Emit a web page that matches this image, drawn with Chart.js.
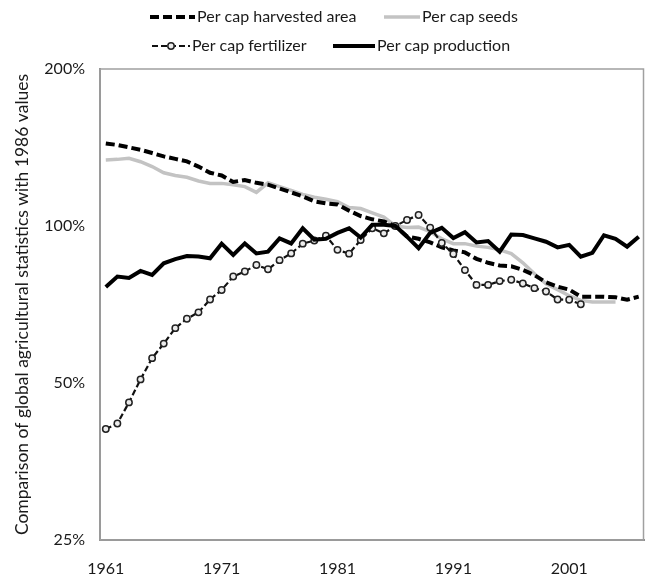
<!DOCTYPE html>
<html>
<head>
<meta charset="utf-8">
<script src="https://cdn.jsdelivr.net/npm/chart.js@4.4.1/dist/chart.umd.min.js"></script>
<style>
  html, body { margin: 0; padding: 0; background: #fff; }
  #wrap { width: 650px; height: 577px; }
</style>
</head>
<body>
<div id="wrap"><canvas id="chart" width="650" height="577"></canvas></div>
<script>
// years on the category axis
const years = [1961,1962,1963,1964,1965,1966,1967,1968,1969,1970,
               1971,1972,1973,1974,1975,1976,1977,1978,1979,1980,
               1981,1982,1983,1984,1985,1986,1987,1988,1989,1990,
               1991,1992,1993,1994,1995,1996,1997,1998,1999,2000,
               2001,2002,2003,2004,2005,2006,2007];

// values in % of 1986
const harvestedArea = [144,143,141.5,140,138,136,134.5,133,130,126.5,
                       125,121.5,122.5,121,120,118,116,114,111.5,110.5,
                       110,107,104.5,103,102,100,95.5,94.5,93,91,
                       89.8,89,86.5,85,84,83.7,82.4,80.5,78,76.5,
                       75.5,73.2,73.2,73.2,73,72.2,73.2];
const seeds = [133.8,134.2,134.8,132.8,130,126.5,125,124,122,120.7,
               120.7,120,119,116,121,119,117,115,113.5,112.5,
               111.3,108.5,108,106,104,100,99.3,99.5,97.5,94.5,
               92.5,92.5,91.5,91,90,88.5,85,81,77.5,75.5,
               73.5,72,71.5,71.5,71.5,null,null];
const fertilizer = [40.8,41.8,45.9,50.8,55.8,59.5,63.7,66.4,68.3,72.3,
                    75.4,80,81.8,84.2,82.6,86,88.6,92.5,93.8,95.8,
                    90,88.5,94,99,96.8,100,102.7,105,99.3,92.8,
                    88.4,82.3,77.1,77.1,78.4,78.9,77.6,76,74.9,72.3,
                    72.2,70.8,null,null,null,null,null];
const production = [76.4,80,79.5,82,80.6,84.8,86.4,87.6,87.4,86.7,
                    92.5,88,92.6,88.6,89.3,94.7,92.6,99,94.1,94.5,
                    97,99,95,100.5,100.5,100,95.4,90.7,97,99.2,
                    94.8,97.3,93,93.6,89.3,96.3,96.1,94.7,93.3,91,
                    92,87.3,88.8,96,94.5,91.3,95.4];

const seriesNames = ['Per cap harvested area', 'Per cap seeds', 'Per cap fertilizer', 'Per cap production'];
const yTicks = [25, 50, 100, 200];
const xLabelYears = [1961, 1971, 1981, 1991, 2001];

const FONT = 'Lato, "Open Sans", sans-serif';
const TEXT = '#1a1a1a';

// legend drawn by hand, two rows like the original
const legendSpots = [
  { x: 150, y: 17, w: 45 },
  { x: 384, y: 17, w: 36 },
  { x: 152, y: 46, w: 38 },
  { x: 333, y: 46, w: 42 }
];

const topLegend = {
  id: 'topLegend',
  afterDraw(chart) {
    const ctx = chart.ctx;
    ctx.save();
    chart.data.datasets.forEach((ds, i) => {
      const s = legendSpots[i];
      ctx.beginPath();
      ctx.setLineDash(ds.borderDash || []);
      ctx.lineWidth = ds.borderWidth;
      ctx.strokeStyle = ds.borderColor;
      ctx.moveTo(s.x, s.y);
      ctx.lineTo(s.x + s.w, s.y);
      ctx.stroke();
      ctx.setLineDash([]);
      if (ds.pointRadius > 0) {
        ctx.beginPath();
        ctx.arc(s.x + s.w / 2, s.y, ds.pointRadius, 0, Math.PI * 2);
        ctx.fillStyle = ds.pointBackgroundColor;
        ctx.fill();
        ctx.lineWidth = ds.pointBorderWidth;
        ctx.strokeStyle = ds.pointBorderColor;
        ctx.stroke();
      }
      ctx.fillStyle = TEXT;
      ctx.font = '16px ' + FONT;
      ctx.textBaseline = 'middle';
      ctx.textAlign = 'left';
      ctx.fillText(ds.label, s.x + s.w + 2, s.y);
    });
    ctx.restore();
  }
};

// grey frame round the plot
const plotFrame = {
  id: 'plotFrame',
  beforeDatasetsDraw(chart) {
    const a = chart.chartArea;
    const ctx = chart.ctx;
    ctx.save();
    ctx.strokeStyle = '#a0a0a0';
    ctx.lineWidth = 1.5;
    ctx.strokeRect(a.left, a.top, a.right - a.left - 1, a.bottom - a.top);
    ctx.restore();
  }
};

new Chart(document.getElementById('chart'), {
  type: 'line',
  data: {
    labels: years,
    datasets: [
      {
        label: seriesNames[0],
        data: harvestedArea,
        borderColor: '#000',
        borderWidth: 4,
        borderDash: [9, 4],
        pointRadius: 0,
        order: 2
      },
      {
        label: seriesNames[1],
        data: seeds,
        borderColor: '#c3c3c3',
        borderWidth: 3.5,
        pointRadius: 0,
        order: 3
      },
      {
        label: seriesNames[2],
        data: fertilizer,
        borderColor: '#111',
        borderWidth: 2.2,
        borderDash: [6, 3],
        pointRadius: 3.2,
        pointBackgroundColor: '#ececec',
        pointBorderColor: '#222',
        pointBorderWidth: 1.5,
        order: 1
      },
      {
        label: seriesNames[3],
        data: production,
        borderColor: '#000',
        borderWidth: 4,
        pointRadius: 0,
        order: 0
      }
    ]
  },
  options: {
    responsive: false,
    animation: false,
    layout: { padding: { top: 69, right: 0, left: 0, bottom: 0 } },
    plugins: {
      legend: { display: false },
      tooltip: { enabled: false }
    },
    scales: {
      x: {
        type: 'category',
        offset: true,
        grid: { display: true, drawOnChartArea: false, drawTicks: true, tickLength: 16, color: 'rgba(0,0,0,0)' },
        border: { display: true, color: '#8a8a8a', width: 2 },
        ticks: {
          autoSkip: false,
          maxRotation: 0,
          padding: 3,
          color: TEXT,
          font: { family: FONT, size: 16 },
          callback: function (value) {
            const y = years[value];
            return xLabelYears.includes(y) ? String(y) : '';
          }
        },
        afterFit: (scale) => { scale.height = 37; }
      },
      y: {
        type: 'logarithmic',
        min: 25,
        max: 200,
        grid: { display: false, drawTicks: false },
        border: { display: true, color: '#8a8a8a', width: 2 },
        ticks: {
          padding: 15,
          color: TEXT,
          font: { family: FONT, size: 16 },
          callback: (v) => v + '%'
        },
        afterBuildTicks: (scale) => {
          scale.ticks = yTicks.map(v => ({ value: v }));
        },
        title: {
          display: true,
          text: 'Comparison of global agricultural statistics with 1986 values',
          color: TEXT,
          font: { family: FONT, size: 17.5 },
          padding: { top: 12, bottom: 0 }
        },
        afterFit: (scale) => { scale.width = 100; }
      }
    }
  },
  plugins: [topLegend, plotFrame]
});
</script>
</body>
</html>
